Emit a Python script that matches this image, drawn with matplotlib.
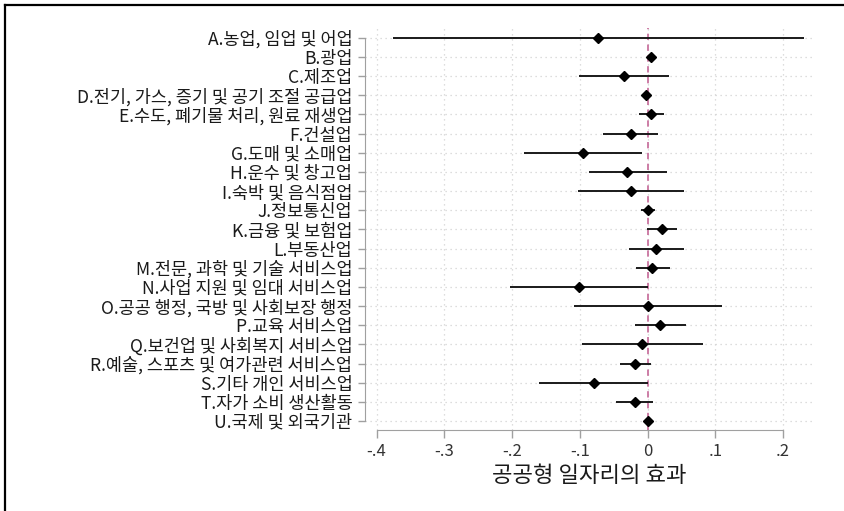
import matplotlib.pyplot as plt
from matplotlib.lines import Line2D
import numpy as np

plt.rcParams['font.family'] = ['Noto Sans CJK KR', 'DejaVu Sans']

industries = [
    'A.농업, 임업 및 어업',
    'B.광업',
    'C.제조업',
    'D.전기, 가스, 증기 및 공기 조절 공급업',
    'E.수도, 폐기물 처리, 원료 재생업',
    'F.건설업',
    'G.도매 및 소매업',
    'H.운수 및 창고업',
    'I.숙박 및 음식점업',
    'J.정보통신업',
    'K.금융 및 보험업',
    'L.부동산업',
    'M.전문, 과학 및 기술 서비스업',
    'N.사업 지원 및 임대 서비스업',
    'O.공공 행정, 국방 및 사회보장 행정',
    'P.교육 서비스업',
    'Q.보건업 및 사회복지 서비스업',
    'R.예술, 스포츠 및 여가관련 서비스업',
    'S.기타 개인 서비스업',
    'T.자가 소비 생산활동',
    'U.국제 및 외국기관',
]
coef = [-0.073, 0.005, -0.035, -0.003, 0.005, -0.025, -0.096, -0.030, -0.024, 0.000, 0.021,
        0.013, 0.007, -0.101, 0.000, 0.018, -0.009, -0.019, -0.079, -0.019, 0.001]
ci_low = [-0.376, 0.003, -0.101, -0.005, -0.013, -0.066, -0.183, -0.087, -0.102, -0.010, -0.001,
          -0.027, -0.017, -0.203, -0.109, -0.019, -0.097, -0.041, -0.160, -0.046, 0.000]
ci_high = [0.231, 0.007, 0.032, -0.001, 0.024, 0.016, -0.008, 0.028, 0.053, 0.011, 0.044,
           0.053, 0.033, 0.001, 0.110, 0.056, 0.081, 0.005, 0.001, 0.008, 0.002]
xticks = [-0.4, -0.3, -0.2, -0.1, 0.0, 0.1, 0.2]
xticklabels = ['-.4', '-.3', '-.2', '-.1', '0', '.1', '.2']

fig = plt.figure(figsize=(8.45, 5.11), dpi=100)
ax = fig.add_axes([365 / 845, 1 - 430 / 511, 448 / 845, 402 / 511])

ypos = np.arange(len(industries))
axis_gray = '#a0a0a0'

# dotted grid
for x in xticks:
    ax.axvline(x, color='#d2d2d2', lw=0.9, ls=(0, (1, 3)), zorder=0)
for y in ypos:
    ax.axhline(y, color='#d2d2d2', lw=0.9, ls=(0, (1, 3)), zorder=0)

ax.axvline(0, color='#c9739f', lw=1.3, ls=(0, (3.5, 2.5)), zorder=1)

ax.hlines(ypos, ci_low, ci_high, color='#1a1a1a', lw=1.4, zorder=2)
ax.plot(coef, ypos, ls='none', marker='D', ms=5.5, color='black', zorder=3)

ax.set_xlim(-0.417, 0.244)
ax.set_ylim(20.47, -0.51)

ax.set_yticks(ypos)
ax.set_yticklabels(industries, fontsize=12.6, color='#1a1a1a')
ax.set_xticks(xticks)
ax.set_xticklabels(xticklabels, fontsize=12, color='#333333')
ax.tick_params(axis='y', length=5, width=1, color=axis_gray, pad=4)
ax.tick_params(axis='x', length=6, width=1, color=axis_gray, pad=3)

for side in ['top', 'right']:
    ax.spines[side].set_visible(False)
ax.spines['left'].set_color(axis_gray)
ax.spines['bottom'].set_color(axis_gray)
ax.spines['left'].set_bounds(0, len(industries) - 1)
ax.spines['bottom'].set_bounds(-0.4, 0.2)

ax.set_xlabel('공공형 일자리의 효과', fontsize=16, color='#1a1a1a', labelpad=3)

# outer frame (top and left edges)
fig.add_artist(Line2D([5 / 845, 5 / 845], [0, 1 - 5 / 511], transform=fig.transFigure, color='black', lw=1.6))
fig.add_artist(Line2D([5 / 845, 1], [1 - 5 / 511, 1 - 5 / 511], transform=fig.transFigure, color='black', lw=1.6))

fig.savefig('out.png', dpi=100)
